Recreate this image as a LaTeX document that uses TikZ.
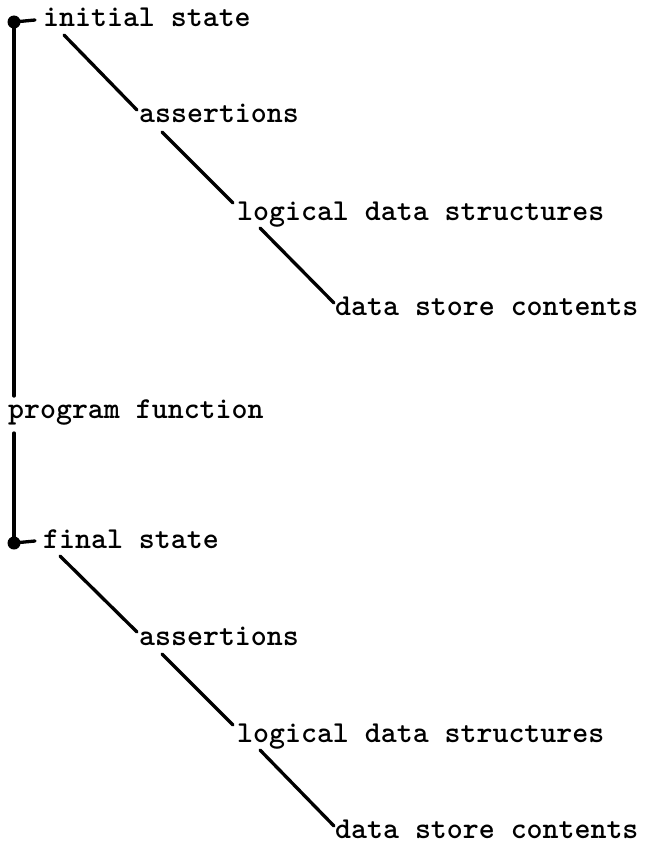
\documentclass[tikz,border=0pt]{standalone}
\usepackage{fontspec}
\begin{document}
\begin{tikzpicture}[x=1pt,y=-1pt,
  lbl/.style={anchor=base west, inner sep=0pt, font=\fontsize{30.4}{34}\selectfont\ttfamily\bfseries},
  ln/.style={line width=3.3pt, line cap=round},
  dotmark/.style={circle, fill=black, inner sep=0pt, minimum size=13pt}]
\useasboundingbox (0,0) rectangle (645,848);
% labels
\node[lbl] (is)  at (43,27)  {initial state};
\node[lbl] (as1) at (139,123) {assertions};
\node[lbl] (ld1) at (237,220) {logical data structures};
\node[lbl] (ds1) at (335,315) {data store contents};
\node[lbl] (pf)  at (8,418)  {program function};
\node[lbl] (fs)  at (43,548) {final state};
\node[lbl] (as2) at (139,645) {assertions};
\node[lbl] (ld2) at (237,742) {logical data structures};
\node[lbl] (ds2) at (335,838) {data store contents};
% dots
\node[dotmark] (d1) at (14,22) {};
\node[dotmark] (d2) at (14,543) {};
% ticks
\draw[ln] (d1.center) -- ([shift={(-8,-7)}]is.base west);
\draw[ln] (d2.center) -- ([shift={(-8,-7)}]fs.base west);
% vertical spine
\draw[ln] (d1.center) -- ([shift={(0,-3)}]d1 |- pf.north);
\draw[ln] ([shift={(0,8)}]d1 |- pf.south) -- (d2.center);
% diagonals upper
\draw[ln] ([shift={(21,8)}]is.base west) -- ([shift={(-2,-13)}]as1.base west);
\draw[ln] ([shift={(23,9)}]as1.base west) -- ([shift={(-4,-17)}]ld1.base west);
\draw[ln] ([shift={(23,8)}]ld1.base west) -- ([shift={(-1,-12)}]ds1.base west);
% diagonals lower
\draw[ln] ([shift={(17,8)}]fs.base west) -- ([shift={(-2,-13)}]as2.base west);
\draw[ln] ([shift={(23,9)}]as2.base west) -- ([shift={(-4,-17)}]ld2.base west);
\draw[ln] ([shift={(23,8)}]ld2.base west) -- ([shift={(-1,-12)}]ds2.base west);
\end{tikzpicture}
\end{document}
